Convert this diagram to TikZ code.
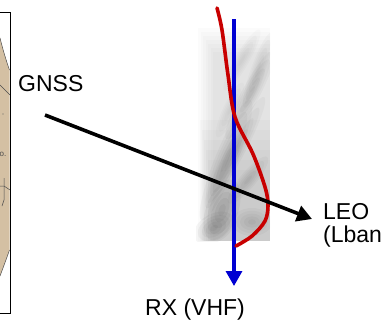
\documentclass[tikz,border=0pt]{standalone}
\usepackage{fontspec}
\setmainfont{Liberation Sans}
\usetikzlibrary{arrows.meta}
\definecolor{landtan}{RGB}{212,192,163}
\definecolor{tecred}{RGB}{200,0,0}
\definecolor{rayblue}{RGB}{0,0,210}
\tikzset{
  lbl/.style={inner sep=0pt, anchor=base west, font=\fontsize{23}{23}\selectfont},
  gnssray/.style={line width=3.6pt, -{Triangle[length=15pt,width=16pt]}},
  vhfray/.style={rayblue, line width=3.2pt, -{Triangle[length=15pt,width=16pt]}},
  profile/.style={tecred, line width=3.6pt, line cap=round},
  border/.style={line width=0.5pt, black!70}
}
% soft puff of smoke: centre x, centre y, radii, rotation, opacity per layer
\newcommand\smokepuff[6]{%
  \foreach \s in {1,0.8,0.6,0.4,0.2}{%
    \fill[black, opacity=#6, rotate around={#5:(#1,#2)}] (#1,#2) ellipse ({#3*\s pt} and {#4*\s pt});}}
\begin{document}
\begin{tikzpicture}[x=1pt,y=-1pt]
\useasboundingbox (0,0) rectangle (382,322);
\clip (0,0) rectangle (382,322);

% map panel on the left
\fill[landtan] (-5,36) -- (0,38) .. controls (3,50) and (6,60) .. (9.5,70)
  -- (9.5,250) .. controls (6,260) and (3,268) .. (0,276) -- (-5,278) -- cycle;
\draw[border] (0,38) .. controls (3,50) and (6,60) .. (9.5,70);
\draw[border] (9.5,250) .. controls (6,260) and (3,268) .. (0,276);
\draw[border] (0,85) -- (10,95);
\draw[border] (0,186) -- (4,186) -- (10,190);
\draw[border] (4,178) -- (4,200) -- (2,206);
\fill[black!60] (3,114) circle (0.6);
\node[inner sep=0pt, font=\fontsize{8}{8}\selectfont, text=black!70] (town) at (3,154) {o.};
\draw[line width=1pt] (-5,12) -- (10.5,12) -- (10.5,313) -- (-5,313);

% ionospheric smoke column
\begin{scope}
  \clip (196,26) rectangle (270,241);
  % soft-edged base wash, darker towards the bottom
  \foreach \k in {0,...,6}{
    \fill[black, opacity=0.015] ({198+\k*2.5},{28+\k*4}) rectangle (270,241);}
  \foreach \k in {0,...,5}{
    \fill[black, opacity=0.02] ({200+\k*2},{120+\k*10}) rectangle (270,241);}
  % diagonal streaks
  \smokepuff{226}{160}{65}{11}{68}{0.03}
  \smokepuff{236}{150}{60}{9}{62}{0.03}
  \smokepuff{250}{95}{50}{9}{62}{0.03}
  \smokepuff{258}{70}{40}{7}{70}{0.025}
  \smokepuff{242}{60}{35}{7}{60}{0.02}
  \smokepuff{248}{180}{30}{8}{50}{0.03}
  \smokepuff{222}{210}{32}{16}{70}{0.045}
  \smokepuff{214}{228}{22}{14}{30}{0.04}
  \smokepuff{252}{222}{20}{14}{0}{0.03}
  \smokepuff{230}{110}{30}{7}{65}{0.02}
\end{scope}

% labels
\node[lbl] (gnss) at (18,91) {GNSS};
\node[lbl] (leo) at (323,219) {LEO};
\node[lbl] (lband) at (323,242) {(Lband)};
\node[lbl] (rx) at (145,315) {RX (VHF)};

% ray end points
\coordinate (gnssStart) at (45,115);
\coordinate (leoEnd) at (312,219);
\coordinate (vhfTop) at (234,19);
\coordinate (vhfEnd) at (234,286);

% vertical VHF ray
\draw[vhfray] (vhfTop) -- (vhfEnd);

% electron density profile
\draw[profile] plot[smooth, tension=0.55] coordinates {
  (217,8) (222,30) (228,75) (235,117) (253,154) (265,187)
  (268,205) (265,221) (252,236) (236,246)};

% slanted GNSS-LEO ray
\draw[gnssray] (gnssStart) -- (leoEnd);
\end{tikzpicture}
\end{document}
